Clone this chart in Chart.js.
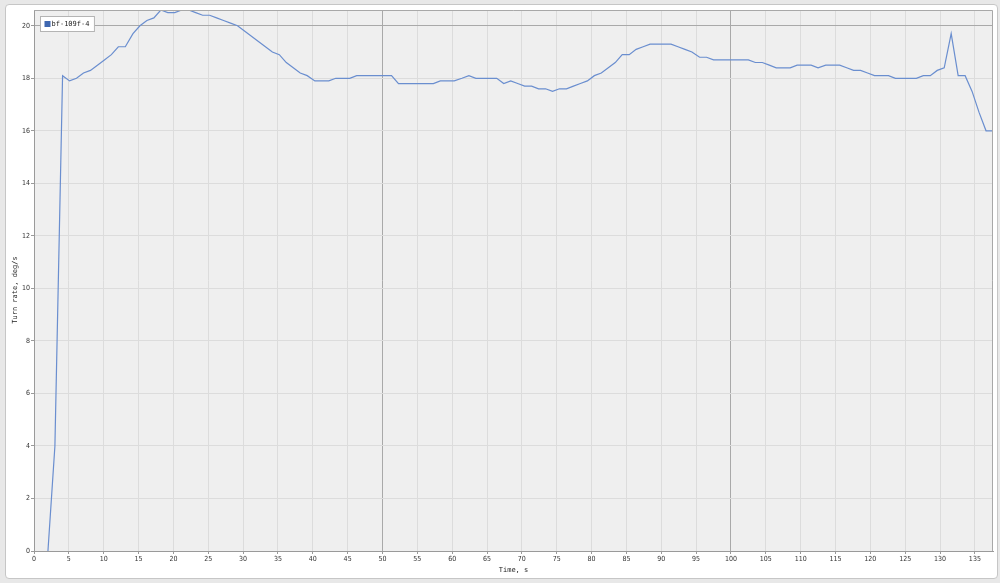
<!DOCTYPE html>
<html>
<head>
<meta charset="utf-8">
<script src="https://cdn.jsdelivr.net/npm/chart.js@4/dist/chart.umd.min.js"></script>
<style>
  html, body { margin: 0; padding: 0; background: #e8e8e8; }
  #wrap { position: relative; width: 1000px; height: 583px; overflow: hidden; }
  #panel { position: absolute; left: 5px; top: 4px; width: 991px; height: 573px;
           background: #ffffff; border: 1px solid #c6c6c6; border-radius: 4px; }
  #c { position: absolute; left: 0; top: 0; }
</style>
</head>
<body>
<div id="wrap">
  <div id="panel"></div>
  <canvas id="c" width="1000" height="583"></canvas>
</div>
<script>
// ---- data ----
const seriesLabel = 'bf-109f-4';
const xTitle = 'Time, s';
const yTitle = 'Turn rate, deg/s';

const timeS = [
  2.0, 3.0, 4.1, 5.1, 6.1, 7.1, 8.1, 9.1, 10.1, 11.1,
  12.1, 13.1, 14.2, 15.2, 16.2, 17.2, 18.2, 19.2, 20.2, 21.2,
  22.2, 23.2, 24.2, 25.2, 26.2, 27.2, 28.2, 29.2, 30.2, 31.2,
  32.2, 33.2, 34.2, 35.2, 36.2, 37.2, 38.2, 39.2, 40.3, 41.3,
  42.3, 43.3, 44.3, 45.3, 46.3, 47.3, 48.3, 49.3, 50.3, 51.3,
  52.3, 53.3, 54.3, 55.3, 56.3, 57.3, 58.3, 59.3, 60.3, 61.4,
  62.4, 63.4, 64.4, 65.4, 66.4, 67.4, 68.4, 69.4, 70.4, 71.4,
  72.4, 73.4, 74.4, 75.4, 76.4, 77.4, 78.4, 79.4, 80.4, 81.4,
  82.4, 83.4, 84.4, 85.4, 86.4, 87.4, 88.4, 89.4, 90.4, 91.4,
  92.4, 93.4, 94.4, 95.5, 96.5, 97.5, 98.5, 99.5, 100.5, 101.5,
  102.5, 103.5, 104.5, 105.5, 106.5, 107.5, 108.5, 109.5, 110.5, 111.5,
  112.5, 113.6, 114.6, 115.6, 116.6, 117.6, 118.6, 119.6, 120.6, 121.6,
  122.6, 123.6, 124.6, 125.6, 126.6, 127.6, 128.6, 129.6, 130.6, 131.6,
  132.6, 133.6, 134.6, 135.6, 136.6, 137.6
];

const turnRate = [
  0.0, 4.0, 18.1, 17.9, 18.0, 18.2, 18.3, 18.5, 18.7, 18.9,
  19.2, 19.2, 19.7, 20.0, 20.2, 20.3, 20.6, 20.5, 20.5, 20.6,
  20.6, 20.5, 20.4, 20.4, 20.3, 20.2, 20.1, 20.0, 19.8, 19.6,
  19.4, 19.2, 19.0, 18.9, 18.6, 18.4, 18.2, 18.1, 17.9, 17.9,
  17.9, 18.0, 18.0, 18.0, 18.1, 18.1, 18.1, 18.1, 18.1, 18.1,
  17.8, 17.8, 17.8, 17.8, 17.8, 17.8, 17.9, 17.9, 17.9, 18.0,
  18.1, 18.0, 18.0, 18.0, 18.0, 17.8, 17.9, 17.8, 17.7, 17.7,
  17.6, 17.6, 17.5, 17.6, 17.6, 17.7, 17.8, 17.9, 18.1, 18.2,
  18.4, 18.6, 18.9, 18.9, 19.1, 19.2, 19.3, 19.3, 19.3, 19.3,
  19.2, 19.1, 19.0, 18.8, 18.8, 18.7, 18.7, 18.7, 18.7, 18.7,
  18.7, 18.6, 18.6, 18.5, 18.4, 18.4, 18.4, 18.5, 18.5, 18.5,
  18.4, 18.5, 18.5, 18.5, 18.4, 18.3, 18.3, 18.2, 18.1, 18.1,
  18.1, 18.0, 18.0, 18.0, 18.0, 18.1, 18.1, 18.3, 18.4, 19.7,
  18.1, 18.1, 17.5, 16.7, 16.0, 16.0
];

const xTickStep = 5;
const yTickStep = 2;
const xMarkLines = [50, 100];
const yMarkLines = [20];

// ---- chart ----
const lineColor = '#6a8ecf';
const tickFont = { family: '"DejaVu Sans Condensed", "DejaVu Sans"', size: 7 };
const monoFont = { family: 'DejaVu Sans Mono', size: 7 };

const plotBg = {
  id: 'plotBg',
  beforeDraw(chart) {
    const { ctx, chartArea: a } = chart;
    ctx.save();
    ctx.fillStyle = '#efefef';
    ctx.fillRect(a.left, a.top, a.right - a.left, a.bottom - a.top);
    ctx.restore();
  },
  afterDraw(chart) {
    const { ctx, chartArea: a } = chart;
    ctx.save();
    ctx.strokeStyle = '#a8a8a8';
    ctx.lineWidth = 1;
    ctx.beginPath();
    ctx.moveTo(a.left, a.top + 0.5);
    ctx.lineTo(a.right - 0.5, a.top + 0.5);
    ctx.lineTo(a.right - 0.5, a.bottom);
    ctx.stroke();
    // y-axis title, centred on the panel height as in the reference
    ctx.save();
    ctx.translate(15.5, 290);
    ctx.rotate(-Math.PI / 2);
    ctx.font = '7px "DejaVu Sans Mono"';
    ctx.fillStyle = '#222';
    ctx.textAlign = 'center';
    ctx.textBaseline = 'middle';
    ctx.fillText(yTitle, 0, 0);
    ctx.restore();
    // legend box inside plot
    const ds = chart.data.datasets[0];
    ctx.font = '7px "DejaVu Sans Mono"';
    const tw = ctx.measureText(ds.label).width;
    const bx = a.left + 6.5, by = a.top + 6.5, bw = tw + 16, bh = 15;
    ctx.fillStyle = '#ffffff';
    ctx.fillRect(bx, by, bw, bh);
    ctx.strokeStyle = '#b4b4b4';
    ctx.strokeRect(bx, by, bw, bh);
    ctx.fillStyle = '#3f67b0';
    ctx.fillRect(bx + 4, by + 4.5, 6, 6);
    ctx.fillStyle = '#222';
    ctx.textAlign = 'left';
    ctx.textBaseline = 'middle';
    ctx.fillText(ds.label, bx + 11, by + bh / 2 + 0.5);
    ctx.restore();
  }
};

new Chart(document.getElementById('c'), {
  type: 'line',
  data: {
    datasets: [{
      label: seriesLabel,
      data: timeS.map((t, i) => ({ x: t, y: turnRate[i] })),
      borderColor: lineColor,
      backgroundColor: lineColor,
      borderWidth: 1.2,
      pointRadius: 0,
      tension: 0,
      fill: false
    }]
  },
  options: {
    responsive: false,
    animation: false,
    events: [],
    layout: { padding: { left: 0, top: 10, right: 7, bottom: 0 } },
    plugins: { legend: { display: false }, tooltip: { enabled: false } },
    scales: {
      x: {
        type: 'linear',
        min: 0,
        max: Math.max(...timeS),
        afterFit(s) { s.height = 32; },
        ticks: { stepSize: xTickStep, includeBounds: false, autoSkip: false, maxRotation: 0,
                 font: tickFont, color: '#333', padding: 1 },
        grid: {
          color: c => (c.tick && xMarkLines.includes(c.tick.value)) ? '#a9a9a9' : '#dcdcdc',
          tickColor: '#9a9a9a', tickLength: 3, lineWidth: 1
        },
        border: { color: '#9a9a9a' },
        title: { display: true, text: xTitle, font: monoFont, color: '#222', padding: { top: 0, bottom: 9 } }
      },
      y: {
        min: 0,
        max: Math.max(...turnRate),
        afterFit(s) { s.width = 34; },
        ticks: { stepSize: yTickStep, includeBounds: false, font: tickFont, color: '#333', padding: 1 },
        grid: {
          color: c => (c.tick && yMarkLines.includes(c.tick.value)) ? '#a9a9a9' : '#dcdcdc',
          tickColor: '#9a9a9a', tickLength: 3, lineWidth: 1
        },
        border: { color: '#9a9a9a' },
        title: { display: false, text: yTitle }
      }
    }
  },
  plugins: [plotBg]
});
</script>
</body>
</html>
